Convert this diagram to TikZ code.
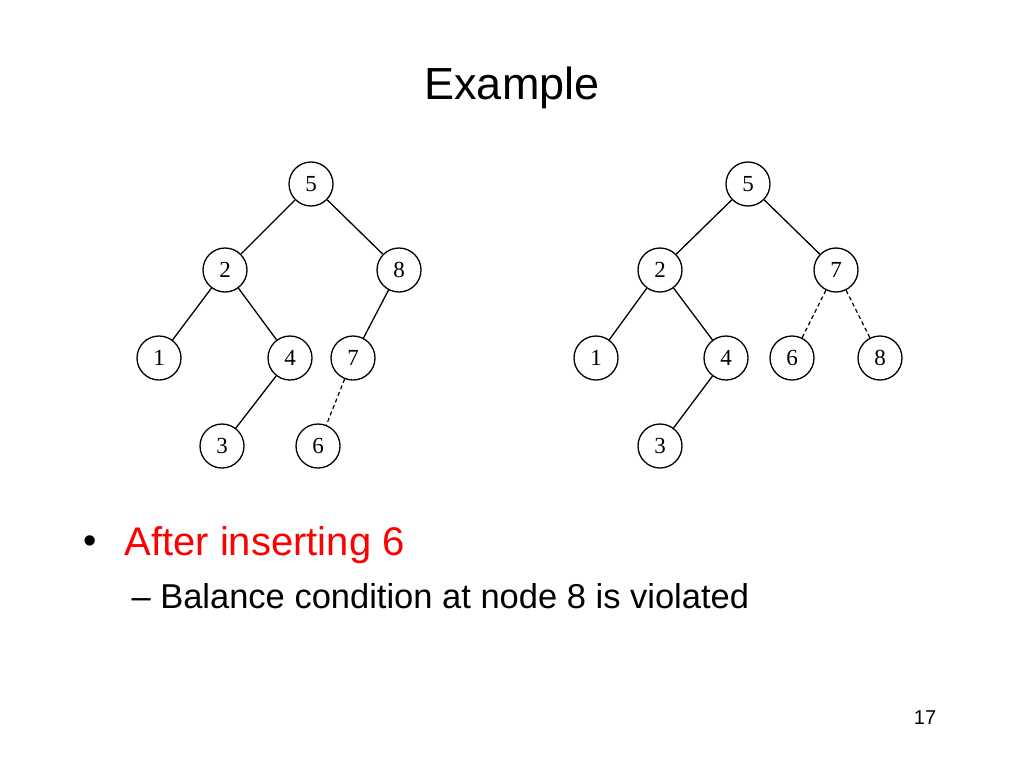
\documentclass[tikz,border=0pt]{standalone}
\usepackage{fontspec}
\setmainfont{Liberation Sans}
\newfontfamily\serifd{Liberation Serif}
\begin{document}
\begin{tikzpicture}[x=1pt,y=-1pt,
  tn/.style={circle,draw,line width=1.3pt,minimum size=44pt,inner sep=0pt,font=\serifd\fontsize{23}{23}\selectfont},
  ed/.style={line width=1.3pt},
  de/.style={line width=1.2pt,dashed,dash pattern=on 4pt off 3pt}]
\useasboundingbox (0,0) rectangle (1024,768);
\node[font=\fontsize{45}{45}\selectfont] (title) at (512,88) {Example};
% left tree
\node[tn] (a5) at (311,184) {5};
\node[tn] (a2) at (225,270) {2};
\node[tn] (a8) at (399,270) {8};
\node[tn] (a1) at (159,358) {1};
\node[tn] (a4) at (290,358) {4};
\node[tn] (a7) at (353,358) {7};
\node[tn] (a3) at (222,446) {3};
\node[tn] (a6) at (318,446) {6};
\draw[ed] (a5)--(a2); \draw[ed] (a5)--(a8);
\draw[ed] (a2)--(a1); \draw[ed] (a2)--(a4);
\draw[ed] (a4)--(a3); \draw[ed] (a8)--(a7);
\draw[de] (a7)--(a6);
% right tree
\node[tn] (b5) at (748,184) {5};
\node[tn] (b2) at (660,270) {2};
\node[tn] (b7) at (836,270) {7};
\node[tn] (b1) at (596,358) {1};
\node[tn] (b4) at (726,358) {4};
\node[tn] (b6) at (792,358) {6};
\node[tn] (b8) at (880,358) {8};
\node[tn] (b3) at (660,446) {3};
\draw[ed] (b5)--(b2); \draw[ed] (b5)--(b7);
\draw[ed] (b2)--(b1); \draw[ed] (b2)--(b4);
\draw[ed] (b4)--(b3);
\draw[de] (b7)--(b6); \draw[de] (b7)--(b8);
% text
\node[anchor=west,font=\fontsize{38}{38}\selectfont] (bul) at (80,545) {•};
\node[anchor=west,text=red,font=\fontsize{40}{40}\selectfont] (t1) at (121,545) {After inserting 6};
\node[anchor=west,font=\fontsize{34.5}{34.5}\selectfont] (t2) at (128,596) {– Balance condition at node 8 is violated};
\node[font=\fontsize{20}{20}\selectfont] (pg) at (925,718) {17};
\end{tikzpicture}
\end{document}
